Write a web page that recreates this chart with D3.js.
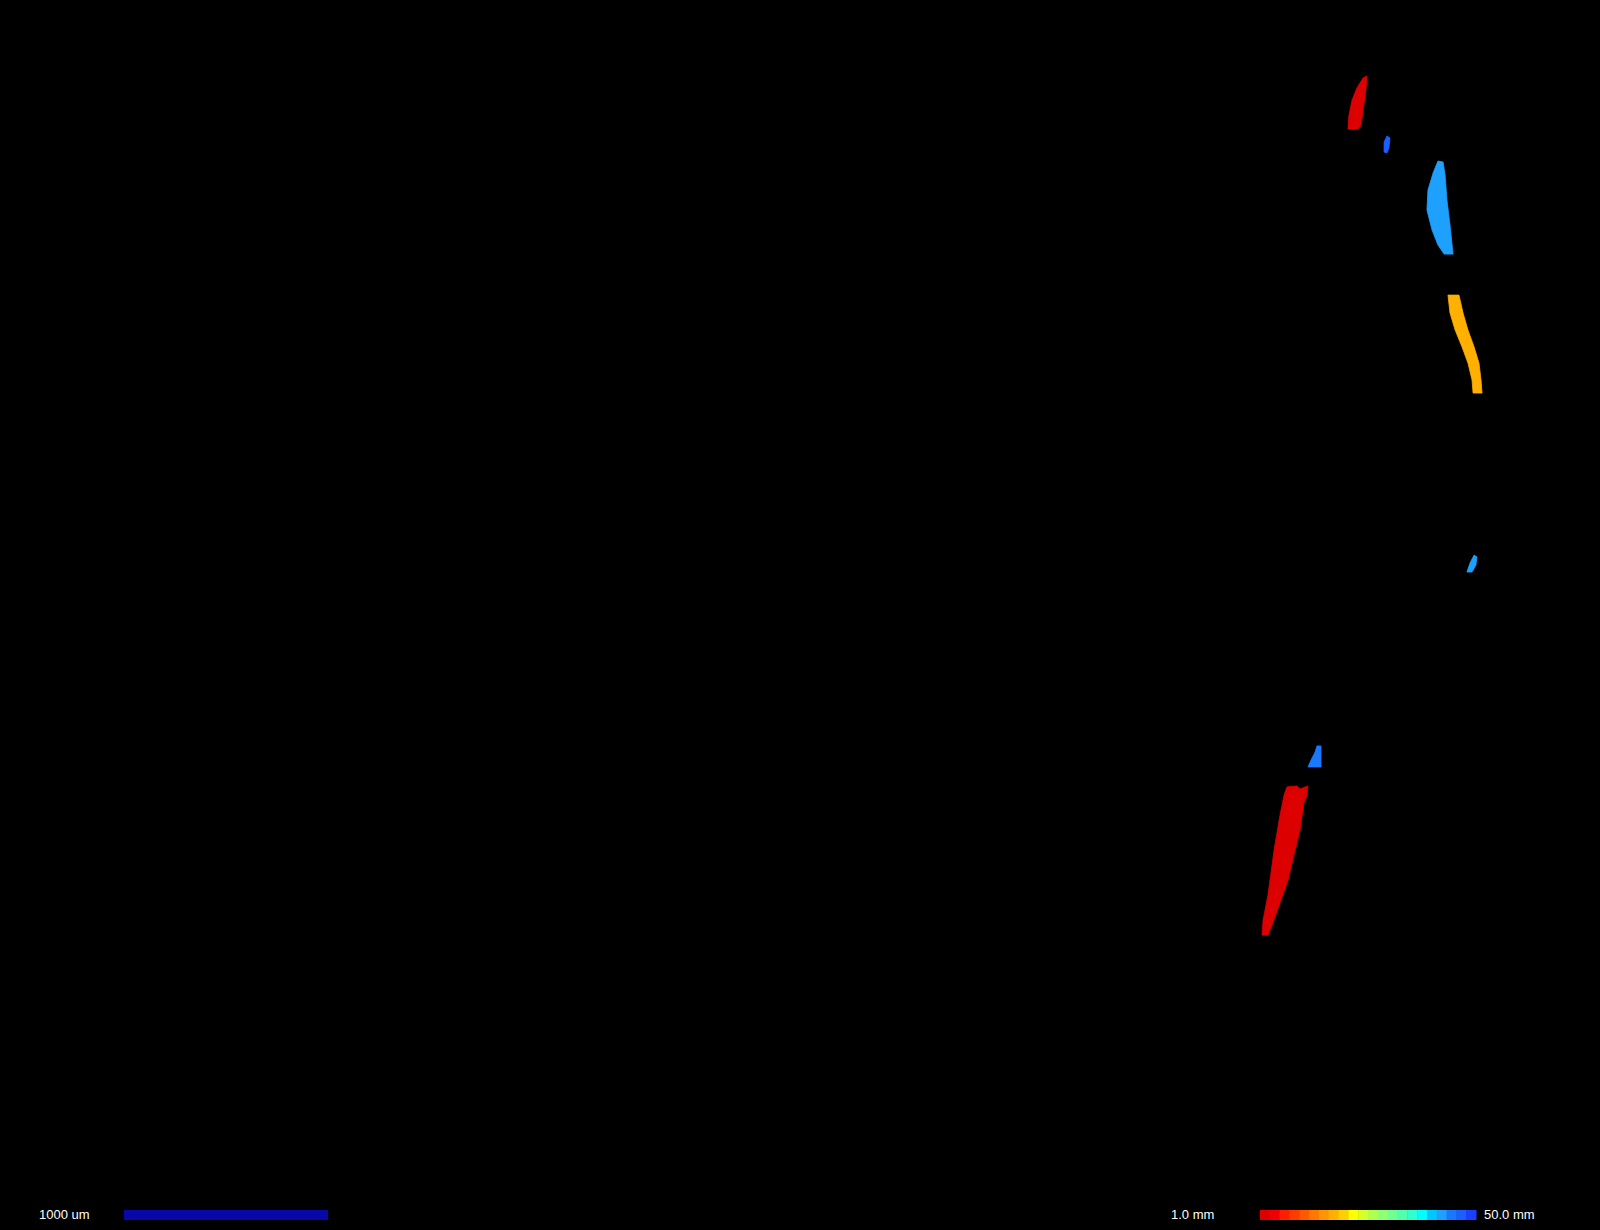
<!DOCTYPE html>
<html>
<head>
<meta charset="utf-8">
<script src="https://cdn.jsdelivr.net/npm/d3@7"></script>
<style>
  html, body { margin: 0; padding: 0; background: #000; overflow: hidden; }
  text { font-family: "Liberation Sans", Arial, sans-serif; }
</style>
</head>
<body>
<div id="chart"></div>
<script>
// particle outlines, in micrometres from the top left of the field of view
const blobTopRed = [[6679,382],[6698,372],[6693,441],[6679,539],[6669,613],[6654,632],[6605,632],[6610,564],[6625,490],[6649,431]];
const blobSmallBlue = [[6796,666],[6811,676],[6806,725],[6796,750],[6782,745],[6782,696]];
const blobLightBlue = [[7046,789],[7071,794],[7081,858],[7090,980],[7105,1103],[7120,1245],[7076,1245],[7046,1201],[7017,1127],[6992,1029],[6997,931],[7022,848]];
const blobOrange = [[7095,1446],[7149,1446],[7169,1534],[7193,1617],[7223,1700],[7247,1779],[7257,1862],[7262,1926],[7218,1926],[7213,1862],[7193,1779],[7164,1700],[7130,1617],[7105,1534]];
const blobCyan = [[7223,2720],[7237,2729],[7232,2769],[7213,2803],[7188,2803],[7203,2759]];
const blobBlue = [[6453,3655],[6473,3655],[6473,3758],[6409,3758],[6424,3724],[6444,3685]];
const blobBigRed = [[6306,3856],[6355,3851],[6370,3866],[6409,3851],[6404,3900],[6390,3930],[6370,4067],[6346,4165],[6311,4312],[6277,4410],[6233,4533],[6213,4582],[6184,4582],[6189,4508],[6213,4386],[6243,4165],[6272,3994],[6292,3896]];

const blobs = [blobTopRed, blobSmallBlue, blobLightBlue, blobOrange, blobCyan, blobBlue, blobBigRed];
// size value of each particle (mm), drives the colour
const blobSizes = [1.5, 46.0, 42.0, 17.5, 41.8, 44.0, 1.8];

const rampColors = ["#dc0000","#f00000","#ff1e00","#ff3c00","#ff5a00","#ff7800","#ff9600","#ffb000",
  "#ffd000","#ffff00","#d8ff28","#b0ff50","#90ff70","#70ff90","#50ffb0","#30ffd0",
  "#00ffff","#00c8ff","#1ea0ff","#1a78ff","#1a60ff","#1a40ff"];
const rampMin = 1.0, rampMax = 50.0;
const rampLabels = ["1.0 mm", "50.0 mm"];

const scaleBarUm = 1000;
const scaleBarLabel = "1000 um";

const W = 1600, H = 1230;
const umPerPx = 4.9;

const svg = d3.select("#chart").append("svg")
  .attr("width", W).attr("height", H)
  .style("display", "block")
  .style("background", "#000");

let x = d3.scaleLinear().domain([0, W * umPerPx]).range([0, W]);
let y = d3.scaleLinear().domain([0, H * umPerPx]).range([0, H]);

let color = d3.scaleQuantize().domain([rampMin, rampMax]).range(rampColors);

let outline = d3.line()
    .x(function(d) { return x(d[0]); })
    .y(function(d) { return y(d[1]); })
    .curve(d3.curveLinearClosed);

svg.append("g").selectAll("path")
    .data(blobs)
  .enter().append("path")
    .attr("d", outline)
    .attr("fill", function(d, i) { return color(blobSizes[i]); })
    .attr("stroke", function(d, i) { return color(blobSizes[i]); })
    .attr("stroke-width", 0.8)
    .attr("stroke-linejoin", "round");

// scale bar, bottom left
const barY = 1210, barH = 10;
svg.append("rect")
    .attr("x", 124)
    .attr("y", barY)
    .attr("width", x(scaleBarUm) - x(0))
    .attr("height", barH)
    .attr("fill", "#0808a8");
svg.append("text")
    .attr("x", 39).attr("y", 1219)
    .attr("fill", "#fff")
    .style("font-size", "13px")
    .text(scaleBarLabel);

// colour ramp, bottom right
let band = d3.scaleBand().domain(d3.range(rampColors.length)).range([1260, 1476]);
svg.append("g").selectAll("rect")
    .data(rampColors)
  .enter().append("rect")
    .attr("x", function(d, i) { return band(i); })
    .attr("y", barY)
    .attr("width", band.bandwidth() + 0.5)
    .attr("height", barH)
    .attr("fill", function(d) { return d; });

svg.append("text")
    .attr("x", 1171).attr("y", 1219)
    .attr("fill", "#fff")
    .style("font-size", "13px")
    .text(rampLabels[0]);
svg.append("text")
    .attr("x", 1484).attr("y", 1219)
    .attr("fill", "#fff")
    .style("font-size", "13px")
    .text(rampLabels[1]);
</script>
</body>
</html>
